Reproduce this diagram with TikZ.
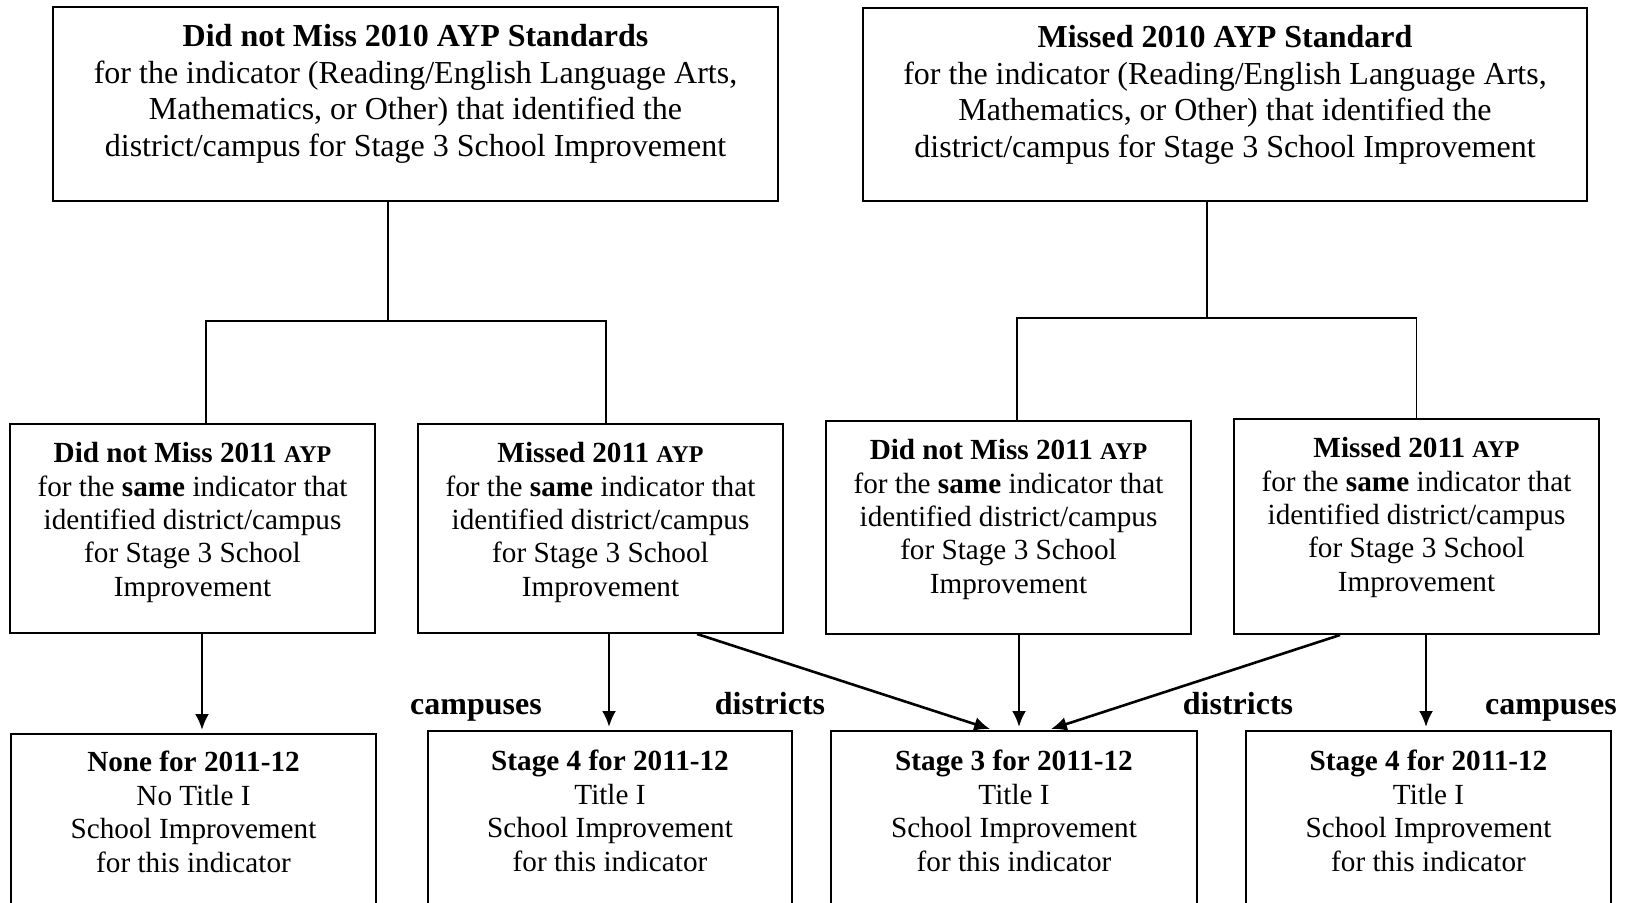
\documentclass[tikz,border=0pt]{standalone}
\usepackage{fontspec}
\setmainfont{Liberation Serif}
\usetikzlibrary{arrows.meta}
\newcommand{\ayp}{{\fontsize{12}{14}\selectfont AYP}}

\begin{document}
\begin{tikzpicture}[x=0.5pt, y=-0.5pt, >={Latex[length=8pt,width=7pt]},
  box/.style={draw, line width=1pt, inner sep=0pt, anchor=north west},
  toptext/.style={align=center, inner sep=0pt, anchor=north, font=\fontsize{16}{18.3}\selectfont},
  midtext/.style={align=center, inner sep=0pt, anchor=north, font=\fontsize{14.6}{16.7}\selectfont},
  tag/.style={font=\fontsize{16}{18}\selectfont\bfseries, inner sep=0pt, anchor=base},
  link/.style={line width=0.8pt},
  arr/.style={line width=1.3pt, ->, shorten >=1.5pt}]
  \useasboundingbox (0,0) rectangle (1625,902);
  \clip (0,0) rectangle (1625,902);

  % 2010 boxes
  \node[box, minimum width=362.5pt, minimum height=97pt] (dnm10) at (52,6) {};
  \node[toptext] (dnm10t) at ([yshift=-9pt]dnm10.north) {\textbf{Did not Miss 2010 AYP Standards}\\
    for the indicator (Reading/English Language Arts,\\
    Mathematics, or Other) that identified the\\
    district/campus for Stage 3 School Improvement};

  \node[box, minimum width=362pt, minimum height=96.5pt] (mis10) at (862,7) {};
  \node[toptext] (mis10t) at ([yshift=-9pt]mis10.north) {\textbf{Missed 2010 AYP Standard}\\
    for the indicator (Reading/English Language Arts,\\
    Mathematics, or Other) that identified the\\
    district/campus for Stage 3 School Improvement};

  % 2011 boxes
  \node[box, minimum width=182.5pt, minimum height=104.5pt] (dnmA) at (9,423) {};
  \node[box, minimum width=182.5pt, minimum height=104.5pt] (misA) at (417,423) {};
  \node[box, minimum width=182.5pt, minimum height=106.5pt] (dnmB) at (825,420) {};
  \node[box, minimum width=182.5pt, minimum height=107.5pt] (misB) at (1233,418) {};

  \node[midtext] (dnmAt) at ([yshift=-9.5pt]dnmA.north) {\textbf{Did not Miss 2011 \ayp}\\
    for the \textbf{same} indicator that\\ identified district/campus\\ for Stage 3 School\\ Improvement};
  \node[midtext] (misAt) at ([yshift=-9.5pt]misA.north) {\textbf{Missed 2011 \ayp}\\
    for the \textbf{same} indicator that\\ identified district/campus\\ for Stage 3 School\\ Improvement};
  \node[midtext] (dnmBt) at ([yshift=-9.5pt]dnmB.north) {\textbf{Did not Miss 2011 \ayp}\\
    for the \textbf{same} indicator that\\ identified district/campus\\ for Stage 3 School\\ Improvement};
  \node[midtext] (misBt) at ([yshift=-9.5pt]misB.north) {\textbf{Missed 2011 \ayp}\\
    for the \textbf{same} indicator that\\ identified district/campus\\ for Stage 3 School\\ Improvement};

  % 2011-12 boxes
  \node[box, minimum width=182.5pt, minimum height=105pt] (none) at (10,733) {};
  \node[box, minimum width=182pt, minimum height=106pt] (stfourA) at (427,730) {};
  \node[box, minimum width=183pt, minimum height=106pt] (stthree) at (830,730) {};
  \node[box, minimum width=182.5pt, minimum height=106pt] (stfourB) at (1245,730) {};

  \node[midtext] (nonet) at ([yshift=-9pt]none.north) {\textbf{None for 2011-12}\\
    No Title I\\ School Improvement\\ for this indicator};
  \node[midtext] (stfourAt) at ([yshift=-10pt]stfourA.north) {\textbf{Stage 4 for 2011-12}\\
    Title I\\ School Improvement\\ for this indicator};
  \node[midtext] (stthreet) at ([yshift=-10pt]stthree.north) {\textbf{Stage 3 for 2011-12}\\
    Title I\\ School Improvement\\ for this indicator};
  \node[midtext] (stfourBt) at ([yshift=-10pt]stfourB.north) {\textbf{Stage 4 for 2011-12}\\
    Title I\\ School Improvement\\ for this indicator};

  % labels
  \node[tag] (campA) at (476,714) {campuses};
  \node[tag] (distA) at (770,714) {districts};
  \node[tag] (distB) at (1238,714) {districts};
  \node[tag] (campB) at (1551,714) {campuses};

  % Tree lines
  \coordinate (forkL) at (388,321);
  \coordinate (forkR) at (1207,318);
  \draw[link] (dnm10.south -| forkL) -- (forkL);
  \draw[link] ([xshift=6.75pt]dnmA.north) |- (forkL) -| ([xshift=2.75pt]misA.north);
  \draw[link] (mis10.south -| forkR) -- (forkR);
  \draw[link] ([xshift=4.25pt]dnmB.north) |- (forkR) -| (misB.north);

  % Arrows
  \draw[arr] ([xshift=4.75pt]dnmA.south) -- ([xshift=4.25pt]none.north);
  \draw[arr] ([xshift=4.25pt]misA.south) -- ([xshift=-0.5pt]stfourA.north);
  \draw[arr] ([xshift=48.25pt]misA.south) -- ([xshift=-10.5pt]stthree.north);
  \draw[arr] ([xshift=5.25pt]dnmB.south) -- ([xshift=2.5pt]stthree.north);
  \draw[arr] ([xshift=-38.25pt]misB.south) -- ([xshift=17pt]stthree.north);
  \draw[arr] ([xshift=4.75pt]misB.south) -- ([xshift=-1.25pt]stfourB.north);
\end{tikzpicture}
\end{document}
